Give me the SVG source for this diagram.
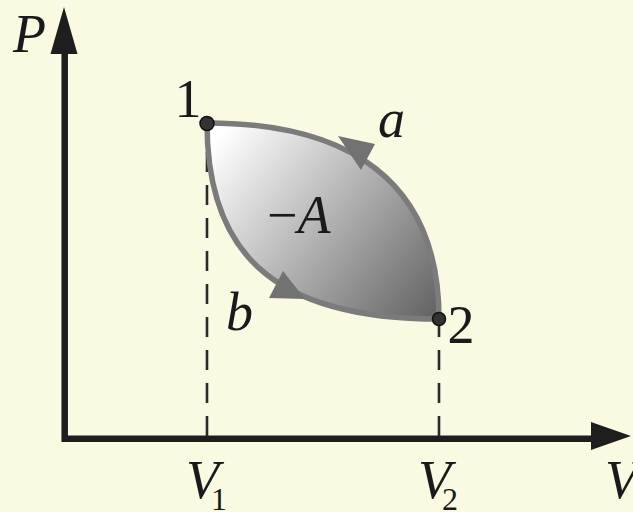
<svg xmlns="http://www.w3.org/2000/svg" width="633" height="512" viewBox="0 0 633 512">
<style>
text{font-family:"Liberation Serif","Times New Roman",serif;fill:#1a1a1a}
.lbl{font-size:54px}
.it{font-style:italic}
.sub{font-size:32px}
.axis{stroke:#1e1e1e;stroke-width:6.5;fill:none}
.head{fill:#1e1e1e}
.dash{stroke:#2a2a2a;stroke-width:2.6;stroke-dasharray:20 13;fill:none}
.curve{stroke:#7b7b7b;stroke-width:5.5;fill:none}
.arr{fill:#727272}
.pt{fill:#333;stroke:#111;stroke-width:1.5}
</style>
<defs>
<linearGradient id="g" gradientUnits="userSpaceOnUse" x1="218" y1="138" x2="432" y2="312">
<stop offset="0" stop-color="#ffffff"/>
<stop offset="1" stop-color="#666666"/>
</linearGradient>
</defs>
<rect width="633" height="512" fill="#fafae3"/>
<g id="axes">
<path class="axis" d="M64.7,50 V438.8 H594"/>
<polygon class="head" points="64,7 77.5,54 50.5,54"/>
<polygon class="head" points="631,436 591,422 591,450"/>
</g>
<g id="area">
<path d="M207,123 C347,123 439,179 439,319 C270,319 207,250 207,123 Z" fill="url(#g)"/>
</g>
<g id="connectors">
<path class="dash" d="M207,436 V124"/>
<path class="dash" d="M439,436 V320"/>
<path id="path-a" class="curve" d="M439,319 C439,179 347,123 207,123"/>
<path id="path-b" class="curve" d="M207,123 C207,250 270,319 439,319"/>
<polygon class="arr" points="338,136 375,144 361,170"/>
<polygon class="arr" points="305,299 283,271 269,298"/>
</g>
<g id="point1"><circle class="pt" cx="207" cy="123.5" r="7"/></g>
<g id="point2"><circle class="pt" cx="439" cy="319" r="6.5"/></g>
<g id="labels">
<text class="lbl it" x="13" y="52">P</text>
<text class="lbl" x="188" y="117" text-anchor="middle">1</text>
<text class="lbl it" x="378" y="137">a</text>
<text class="lbl" x="267" y="233">−<tspan class="it">A</tspan></text>
<text class="lbl it" x="226" y="330">b</text>
<text class="lbl" x="461" y="343" text-anchor="middle">2</text>
<text class="lbl it" x="186" y="498">V</text>
<text class="sub" x="211" y="510">1</text>
<text class="lbl it" x="418" y="498">V</text>
<text class="sub" x="442" y="510">2</text>
<text class="lbl it" x="605" y="498">V</text>
</g>
</svg>
